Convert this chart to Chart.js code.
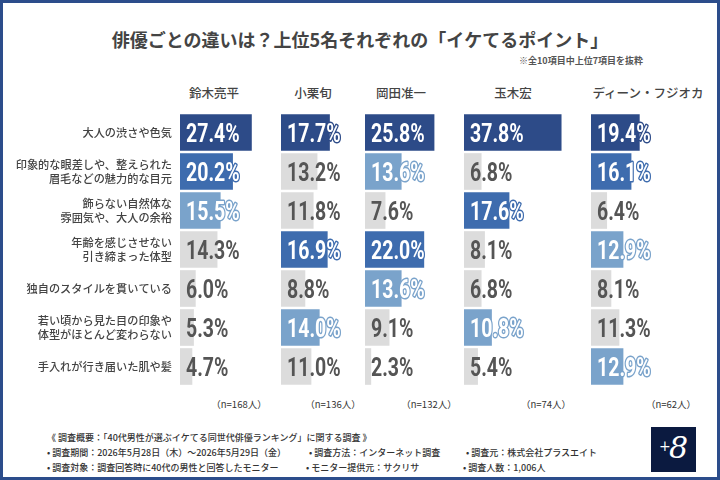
<!DOCTYPE html>
<html lang="ja">
<head>
  <meta charset="UTF-8">
  <title>俳優ごとの違いは？上位5名それぞれの「イケてるポイント」</title>
  <script src="https://cdn.jsdelivr.net/npm/chart.js"></script>
  <style>
    body {
      margin: 0;
      font-family: 'Noto Sans CJK JP', sans-serif;
    }
    .frame {
      position: relative;
      width: 720px;
      height: 480px;
      box-sizing: border-box;
      border: 3px solid #2c4d8b;
      background: #fff;
      overflow: hidden;
    }
    .abs { position: absolute; white-space: nowrap; }
    .title {
      left: 0; width: 714px; top: 23px;
      text-align: center;
      font-size: 18px; font-weight: bold; color: #444;
    }
    .note {
      right: 74px; top: 51px;
      font-size: 9px; font-weight: bold; color: #555;
    }
    .actor {
      top: 80px; transform: translateX(-50%);
      font-size: 12.5px; font-weight: 500; color: #444;
    }
    .sample {
      top: 394px; transform: translateX(-50%);
      font-size: 9.5px; color: #333;
    }
    .foot {
      font-size: 9px; font-weight: 500; color: #333;
    }
    .logo {
      left: 648px; top: 424px; width: 45px; height: 45px;
      background: #0b1a40; color: #fff;
      font-family: 'DejaVu Serif', serif; font-style: italic;
    }
    .logo .plus { position: absolute; left: 8px; top: 11px; font-size: 14px; font-style: normal; }
    .logo .eight { position: absolute; left: 18px; top: 3px; font-size: 30px; }
    canvas { position: absolute; }
  </style>
</head>
<body>
  <div class="frame" id="frame">
    <div class="abs title">俳優ごとの違いは？上位5名それぞれの「イケてるポイント」</div>
    <div class="abs note">※全10項目中上位7項目を抜粋</div>

    <div class="abs foot" style="left:44px;top:428px">《 調査概要：「40代男性が選ぶイケてる同世代俳優ランキング」に関する調査 》</div>
    <div class="abs foot" style="left:44px;top:443px">• 調査期間：2026年5月28日（木）～2026年5月29日（金）</div>
    <div class="abs foot" style="left:306px;top:443px">• 調査方法：インターネット調査</div>
    <div class="abs foot" style="left:463px;top:443px">• 調査元：株式会社プラスエイト</div>
    <div class="abs foot" style="left:44px;top:458px">• 調査対象：調査回答時に40代の男性と回答したモニター</div>
    <div class="abs foot" style="left:303px;top:458px">• モニター提供元：サクリサ</div>
    <div class="abs foot" style="left:460px;top:458px">• 調査人数：1,006人</div>
    <div class="abs logo"><span class="plus">+</span><span class="eight">8</span></div>
  </div>

  <script>
    // 項目（上位7項目）
    const categories = [
      ['大人の渋さや色気'],
      ['印象的な眼差しや、整えられた', '眉毛などの魅力的な目元'],
      ['飾らない自然体な', '雰囲気や、大人の余裕'],
      ['年齢を感じさせない', '引き締まった体型'],
      ['独自のスタイルを貫いている'],
      ['若い頃から見た目の印象や', '体型がほとんど変わらない'],
      ['手入れが行き届いた肌や髪']
    ];

    const actors = ['鈴木亮平', '小栗旬', '岡田准一', '玉木宏', 'ディーン・フジオカ'];
    const sampleSizes = [168, 136, 132, 74, 62];

    // 各俳優の回答率 (%)
    const suzuki = [27.4, 20.2, 15.5, 14.3, 6.0, 5.3, 4.7];
    const oguri  = [17.7, 13.2, 11.8, 16.9, 8.8, 14.0, 11.0];
    const okada  = [25.8, 13.6, 7.6, 22.0, 13.6, 9.1, 2.3];
    const tamaki = [37.8, 6.8, 17.6, 8.1, 6.8, 10.8, 5.4];
    const dean   = [19.4, 16.1, 6.4, 12.9, 8.1, 11.3, 12.9];
    const series = [suzuki, oguri, okada, tamaki, dean];

    // レイアウト（位置・スケール）
    const colLeft   = [180, 281, 365, 464, 591];
    const colWidth  = [100, 84, 99, 127, 115];
    const colScale  = [2.62, 2.76, 2.69, 2.58, 2.51];   // px per %
    const headerX   = [214, 313, 401, 513, 648];
    const sampleX   = [239, 333, 429, 546, 671];
    const axisWidth = 176;
    const chartTop = 113, chartHeight = 273;

    const rankColors = ['#2d4b88', '#3e6cae', '#7aa3cb'];
    const otherColor = '#dcdcdc';

    function colorsFor(values) {
      const distinct = [...new Set(values)].sort((a, b) => b - a);
      return values.map(v => rankColors[distinct.indexOf(v)] || otherColor);
    }

    const frame = document.getElementById('frame');

    // ヘッダーとn数
    actors.forEach((name, i) => {
      const h = document.createElement('div');
      h.className = 'abs actor';
      h.style.left = (headerX[i] - 3) + 'px';
      h.textContent = name;
      frame.appendChild(h);

      const n = document.createElement('div');
      n.className = 'abs sample';
      n.style.left = (sampleX[i] - 3) + 'px';
      n.textContent = '（n=' + sampleSizes[i] + '人）';
      frame.appendChild(n);
    });

    // バー上の数値ラベル（細めの数字にするため横方向に圧縮）
    const valueLabels = {
      id: 'valueLabels',
      afterDatasetsDraw(chart) {
        const ctx = chart.ctx;
        const ds = chart.data.datasets[0];
        const meta = chart.getDatasetMeta(0);
        const size = 25, squeeze = 0.78;
        ctx.save();
        ctx.font = 'bold ' + size + 'px Roboto, "Liberation Sans", sans-serif';
        ctx.textAlign = 'left';
        ctx.textBaseline = 'alphabetic';
        ctx.lineJoin = 'round';
        meta.data.forEach((bar, j) => {
          const text = ds.data[j].toFixed(1) + '%';
          const x = bar.base + 6;
          const y = bar.y + size * 0.36;
          const c = ds.backgroundColor[j];
          ctx.save();
          ctx.translate(x, y);
          ctx.scale(squeeze, 1);
          if (c === otherColor) {
            ctx.fillStyle = '#555';
            ctx.fillText(text, 0, 0);
          } else {
            ctx.strokeStyle = c;
            ctx.lineWidth = 3;
            ctx.strokeText(text, 0, 0);
            ctx.fillStyle = '#fff';
            ctx.fillText(text, 0, 0);
          }
          ctx.restore();
        });
        ctx.restore();
      }
    };

    series.forEach((values, i) => {
      const canvas = document.createElement('canvas');
      const left = i === 0 ? colLeft[0] - axisWidth : colLeft[i];
      const width = i === 0 ? colWidth[0] + axisWidth : colWidth[i];
      canvas.width = width;
      canvas.height = chartHeight;
      canvas.style.left = (left - 3) + 'px';
      canvas.style.top = (chartTop - 3) + 'px';
      frame.appendChild(canvas);

      const yAxis = {
        display: i === 0,
        grid: { display: false, drawTicks: false },
        border: { display: false },
        ticks: {
          padding: 8,
          color: '#444',
          font: { family: "'Noto Sans CJK JP', sans-serif", size: 11.2, weight: '500', lineHeight: 1.28 }
        }
      };
      if (i === 0) {
        yAxis.afterFit = scale => {
          scale.width = axisWidth;
          scale.paddingTop = 0;
          scale.paddingBottom = 0;
        };
      }

      new Chart(canvas, {
        type: 'bar',
        data: {
          labels: categories,
          datasets: [{
            data: values,
            backgroundColor: colorsFor(values),
            borderWidth: 0,
            barPercentage: 0.94,
            categoryPercentage: 1
          }]
        },
        options: {
          indexAxis: 'y',
          responsive: false,
          animation: false,
          layout: { padding: 0 },
          plugins: {
            legend: { display: false },
            tooltip: { enabled: false }
          },
          scales: {
            x: { display: false, min: 0, max: colWidth[i] / colScale[i] },
            y: yAxis
          }
        },
        plugins: [valueLabels]
      });
    });
  </script>
</body>
</html>
